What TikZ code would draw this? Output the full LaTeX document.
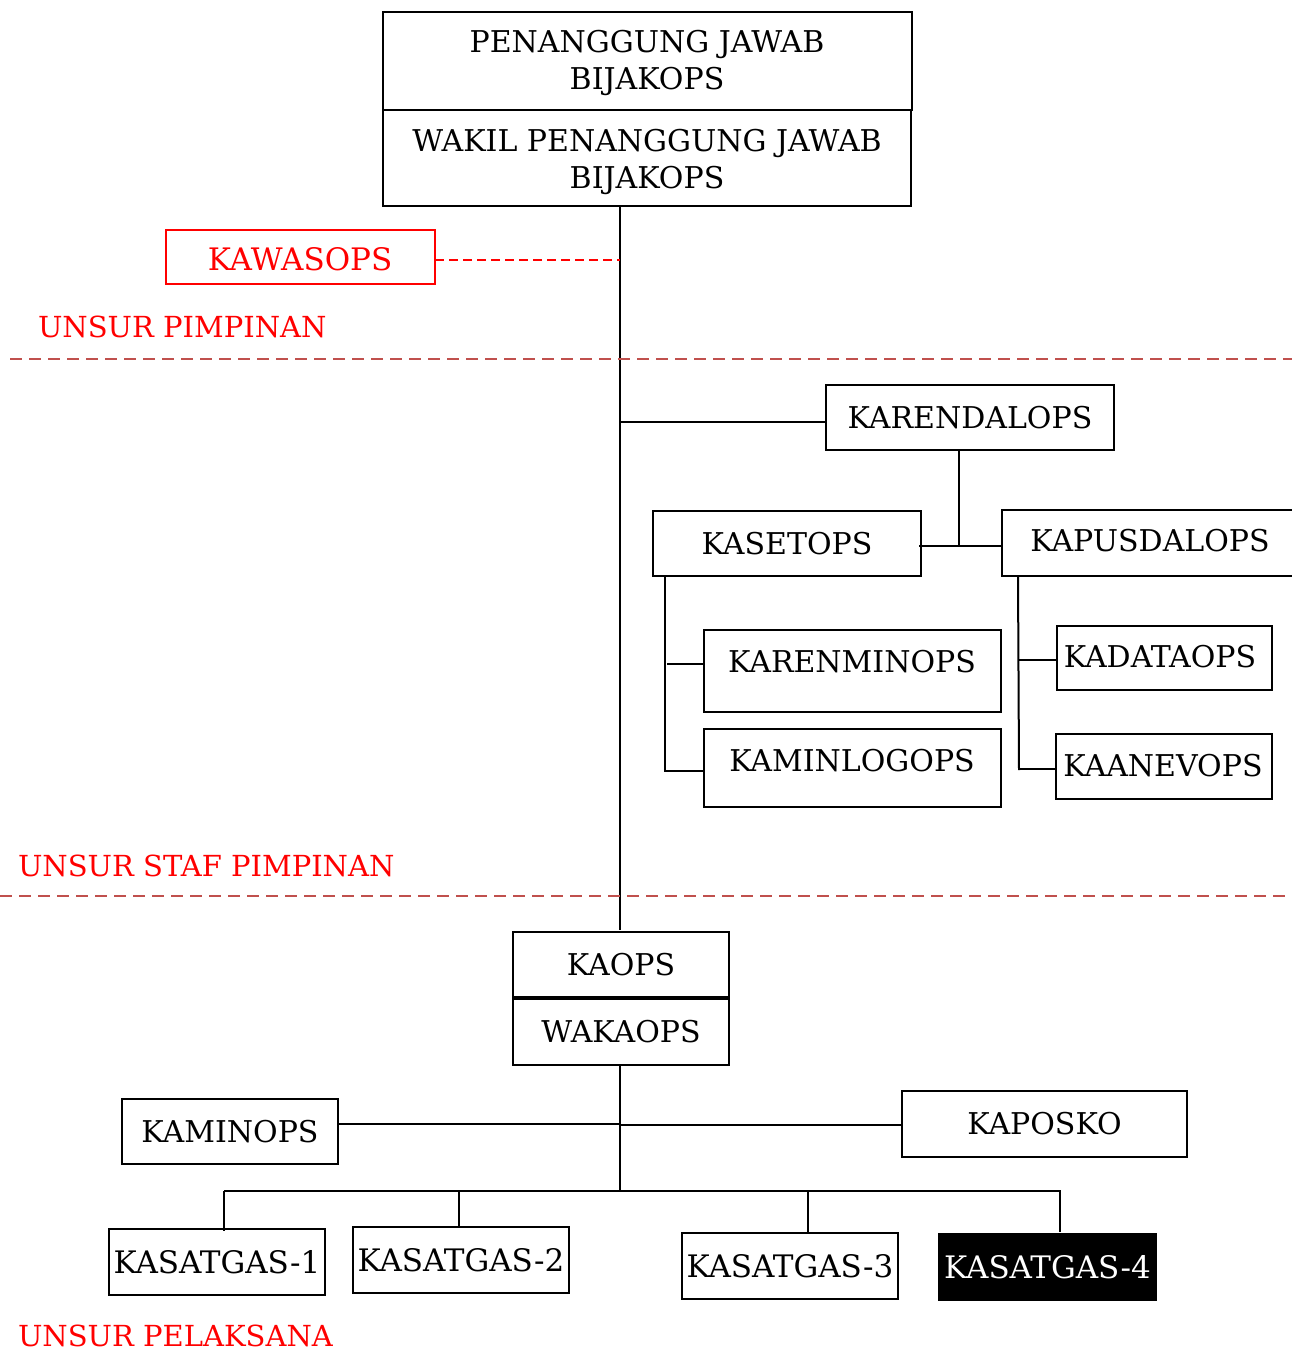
\documentclass[tikz,border=0pt]{standalone}
\usepackage{fontspec}
\setmainfont{DejaVu Serif}
\begin{document}
\begin{tikzpicture}[x=1pt,y=-1pt,
  every node/.style={inner sep=0pt,outer sep=0pt,font=\fontsize{30}{37.5}\selectfont},
  box/.style={draw=black,line width=1.3pt,rectangle},
  conn/.style={draw=black,line width=2pt},
  redtxt/.style={text=red,anchor=west,font=\fontsize{29}{35}\selectfont},
  sep/.style={draw=sepred,line width=1.5pt,dash pattern=on 12pt off 7pt},
]
\definecolor{sepred}{RGB}{192,80,77}
\useasboundingbox (0,0) rectangle (1292,1355);
% top boxes
\node[box,minimum width=529pt,minimum height=98pt] (pj) at (647.5,61) {};
\node[align=center] (pjt) at (647,63) {PENANGGUNG JAWAB\\BIJAKOPS};
\node[box,minimum width=528pt,minimum height=96pt] (wpj) at (647,158) {};
\node[align=center] (wpjt) at (647,162) {WAKIL PENANGGUNG JAWAB\\BIJAKOPS};
% kawasops
\node[box,draw=red,minimum width=269pt,minimum height=54pt] (kawas) at (300.5,257) {};
\node[text=red,font=\fontsize{31}{37}\selectfont] (kawast) at (300,259) {KAWASOPS};
\coordinate (spine1) at (620,206);
\coordinate (spine2) at (620,930);
\draw[conn] (spine1) -- (spine2);
\coordinate (kwj) at (620,260);
\draw[red,line width=1.5pt,dash pattern=on 9pt off 5pt] (kawas.east |- kwj) -- (kwj);
\node[redtxt] (up) at (38,327) {UNSUR PIMPINAN};
\coordinate (s1a) at (10,359); \coordinate (s1b) at (1292,359);
\draw[sep] (s1a) -- (s1b);
% staff
\node[box,minimum width=288pt,minimum height=65pt] (karen) at (970,417.5) {KARENDALOPS};
\coordinate (kj) at (620,422);
\draw[conn] (kj) -- (karen.west |- kj);
\node[box,minimum width=268pt,minimum height=65pt] (kaset) at (787,543.5) {KASETOPS};
\node[box,minimum width=300pt,minimum height=66pt,anchor=west] (kapus) at (1002,543) {};
\node (kapust) at (1150,541) {KAPUSDALOPS};
\coordinate (kk) at (959,546);
\draw[conn] (karen.south -| kk) -- (kk);
\draw[conn] (919,546) -- (kapus.west |- kk);
% kasetops subtree
\node[box,minimum width=297pt,minimum height=82pt] (karenmin) at (852.5,671) {};
\node (karenmint) at (852,662) {KARENMINOPS};
\node[box,minimum width=297pt,minimum height=78pt] (kaminlog) at (852.5,768) {};
\node (kaminlogt) at (852,761) {KAMINLOGOPS};
\coordinate (ks1) at (665,576);
\coordinate (ks2) at (665,772);
\draw[conn] (ks1) -- (ks2);
\draw[conn] (667,664) -- (karenmin.west |- 667,664);
\draw[conn] (665,771) -- (kaminlog.west |- 665,771);
% kapusdalops subtree
\node[box,minimum width=215pt,minimum height=64pt] (kadata) at (1164.5,658) {};
\node (kadatat) at (1160,657) {KADATAOPS};
\node[box,minimum width=216pt,minimum height=65pt] (kaanev) at (1164,766.5) {};
\node (kaanevt) at (1163,766) {KAANEVOPS};
\coordinate (kp1) at (1018,576);
\coordinate (kp2) at (1019,770);
\draw[conn] (kp1) -- (kp2);
\draw[conn] (1018,660) -- (kadata.west |- 1018,660);
\draw[conn] (1019,769) -- (kaanev.west |- 1019,769);
\node[redtxt] (usp) at (18,866) {UNSUR STAF PIMPINAN};
\coordinate (s2a) at (0,896); \coordinate (s2b) at (1292,896);
\draw[sep] (s2a) -- (s2b);
% kaops
\node[box,minimum width=216pt,minimum height=65pt] (kaops) at (621,964.5) {KAOPS};
\node[box,minimum width=216pt,minimum height=66pt] (wakaops) at (621,1032) {WAKAOPS};
\coordinate (bus) at (620,1191);
\draw[conn] (wakaops.south -| bus) -- (bus);
\node[box,minimum width=216pt,minimum height=65pt] (kaminops) at (230,1131.5) {KAMINOPS};
\node[box,minimum width=285pt,minimum height=66pt] (kaposko) at (1044.5,1124) {KAPOSKO};
\draw[conn] (kaminops.east |- 0,1124) -- (620,1124);
\draw[conn] (620,1125) -- (kaposko.west |- 0,1125);
\coordinate (busl) at (224,1191);
\coordinate (busr) at (1061,1191);
\draw[conn] (busl) -- (busr);
% kasatgas
\begin{scope}[every node/.style={inner sep=0pt,outer sep=0pt,font=\fontsize{31}{36}\selectfont}]
\node[box,minimum width=216pt,minimum height=66pt] (sat1) at (217,1262) {KASATGAS-1};
\node[box,minimum width=216pt,minimum height=66pt] (sat2) at (461,1260) {KASATGAS-2};
\node[box,minimum width=216pt,minimum height=66pt] (sat3) at (790,1266) {KASATGAS-3};
\node[box,fill=black,text=white,minimum width=217pt,minimum height=66pt] (sat4) at (1047.5,1267) {KASATGAS-4};
\end{scope}
\draw[conn] (busl) -- (224,1231);
\draw[conn] (459,1191) -- (sat2.north -| 459,0);
\draw[conn] (808,1191) -- (808,1232);
\draw[conn] (1060,1191) -- (1060,1232);
\node[redtxt] (upl) at (18,1336) {UNSUR PELAKSANA};
\end{tikzpicture}
\end{document}
